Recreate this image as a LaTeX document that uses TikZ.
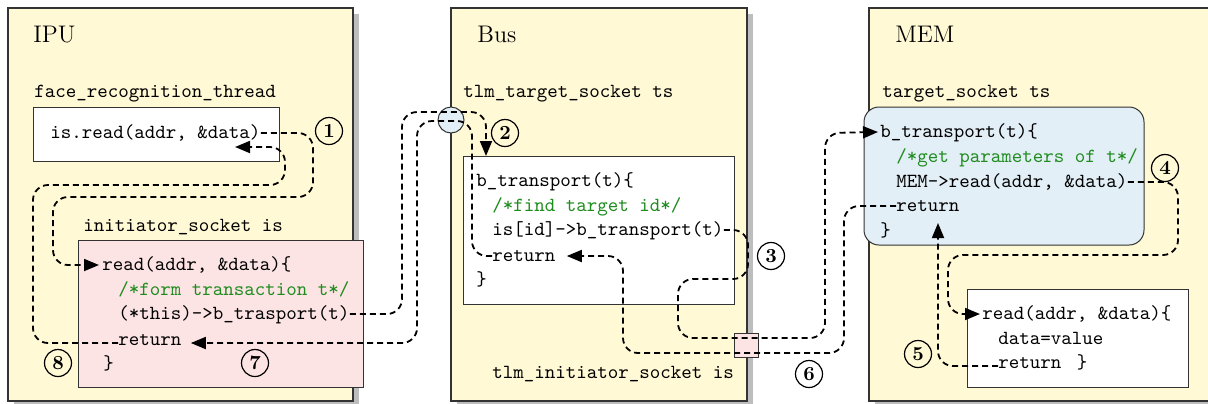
\documentclass[tikz,border=0pt]{standalone}
\usetikzlibrary{arrows.meta,fit}
\definecolor{panelfill}{HTML}{FFF9D5}
\definecolor{pinkfill}{HTML}{FDE4E4}
\definecolor{bluefill}{HTML}{E3EFF6}
\definecolor{cmtgreen}{HTML}{1E8C1E}
\definecolor{shadowgray}{HTML}{BDBDBD}
\definecolor{edgegray}{HTML}{333333}
\tikzset{
  panel/.style={fill=panelfill, draw=edgegray, line width=0.6pt, inner sep=0pt},
  panelshadow/.style={fill=shadowgray, draw=none},
  codebox/.style={fill=white, draw=edgegray, line width=0.5pt, inner sep=0pt},
  code/.style={font=\ttfamily, anchor=base west, inner sep=0pt, text height=7.5pt, text depth=2.5pt},
  cmt/.style={code, text=cmtgreen},
  title/.style={font=\large, anchor=base west, inner sep=0pt},
  stepnum/.style={circle, draw, line width=0.6pt, minimum size=13.5pt, inner sep=0pt, font=\bfseries},
  flow/.style={line width=0.9pt, dash pattern=on 3pt off 2pt, rounded corners=7.5pt},
  tip/.style={-{Triangle[length=7.5pt,width=6pt]}}
}
\begin{document}
\begin{tikzpicture}[x=0.5pt,y=-0.5pt]
\useasboundingbox (0,0) rectangle (1208,403);
\clip (0,0) rectangle (1208,403);
% panels with shadows
\fill[panelshadow] (14,14) rectangle (359,410);
\fill[panelshadow] (457,14) rectangle (753,410);
\fill[panelshadow] (875,14) rectangle (1240,410);
\node[panel, fit={(8,8) (353,401)}] (ipu) {};
\node[panel, fit={(451,8) (747,401)}] (bus) {};
\node[panel, fit={(869,8) (1235,401)}] (mem) {};
% boxes
\node[codebox, fit={(33,107) (279,161)}] (frbox) {};
\node[codebox, fill=pinkfill, fit={(78,240) (363,387)}] (isbox) {};
\node[codebox, fit={(463,156) (734,304)}] (busbox) {};
\node[codebox, fill=bluefill, rounded corners=7.5pt, fit={(864,107) (1144,245)}] (tsbox) {};
\node[codebox, fit={(967,289) (1188,387)}] (readbox) {};
\node[circle, fill=bluefill, draw=edgegray, line width=0.5pt, minimum size=13pt, inner sep=0pt] (busport) at (451,120) {};
\node[rectangle, fill=pinkfill, draw=edgegray, line width=0.5pt, minimum size=12pt, inner sep=0pt] (bussock) at (746,345.5) {};
% IPU texts
\node[title] (tipu) at (33,42) {IPU};
\node[code] (frt) at (34,97) {face\_recognition\_thread};
\node[code] (isread) at (50,138) {is.read(addr, \&data)};
\node[code] (inis) at (83,231) {initiator\_socket is};
\node[code] (read1) at (102,270) {read(addr, \&data)\{};
\node[cmt] (form) at (118,295) {/*form transaction t*/};
\node[code] (this) at (118,319) {(*this)->b\_trasport(t)};
\node[code] (ret1) at (118,345) {return};
\node[code] (br1) at (103,369) {\}};
% Bus texts
\node[title] (tbus) at (477,42) {Bus};
\node[code] (tts) at (463,97) {tlm\_target\_socket ts};
\node[code] (bbt) at (476,186) {b\_transport(t)\{};
\node[cmt] (bfind) at (492,211) {/*find target id*/};
\node[code] (bis) at (492,235) {is[id]->b\_transport(t)};
\node[code] (bret) at (492,261) {return};
\node[code] (bbr) at (476,285) {\}};
\node[code] (tis) at (492,378) {tlm\_initiator\_socket is};
% MEM texts
\node[title] (tmem) at (895,42) {MEM};
\node[code] (mts) at (882,97) {target\_socket ts};
\node[code] (mbt) at (880,137) {b\_transport(t)\{};
\node[cmt] (mget) at (896,162) {/*get parameters of t*/};
\node[code] (mread) at (896,187) {MEM->read(addr, \&data)};
\node[code] (mret) at (896,211) {return};
\node[code] (mbr) at (880,236) {\}};
\node[code] (wread) at (982,319) {read(addr, \&data)\{};
\node[code] (wdata) at (998,344) {data=value};
\node[code] (wret) at (998,368) {return \hspace{2.5pt}\}};
% step numbers
\node[stepnum] (n1) at (329,131) {1};
\node[stepnum] (n2) at (505,133) {2};
\node[stepnum] (n3) at (771,256) {3};
\node[stepnum] (n4) at (1165,168) {4};
\node[stepnum] (n5) at (918,354) {5};
\node[stepnum] (n6) at (809,374) {6};
\node[stepnum] (n7) at (255,363) {7};
\node[stepnum] (n8) at (58,363) {8};
% free ends
\coordinate (e8) at (235,147);
\coordinate (e2) at (486,156);
\coordinate (e5) at (938,223);
% connectors
\draw[flow, tip] (isread.east) -| (313,197) -- (53,197) |- ([xshift=-1.5pt]read1.west);
\draw[flow, tip] ([yshift=1pt]ret1.base west) -| (33,185) -| (285,147) -- (e8);
\draw[flow, tip] (this.east) -| (402,112) -| (e2);
\draw[flow, tip] (bret.west) -| (472,121) -| (417,343) -- ([xshift=4.5pt,yshift=1pt]ret1.base east);
\draw[flow, tip] (bis.east) -| (748,279) -| (678,338) -| (825,133) -- ([xshift=-1pt]mbt.west);
\draw[flow, tip] (mret.west) -| (844,353) -- (623,353) |- ([xshift=5.5pt]bret.east);
\draw[flow, tip] (mread.east) -| (1178,255) -- (948,255) |- ([xshift=-1pt]wread.west);
\draw[flow, tip] ([yshift=1pt]wret.base west) -| (e5);
\end{tikzpicture}
\end{document}
